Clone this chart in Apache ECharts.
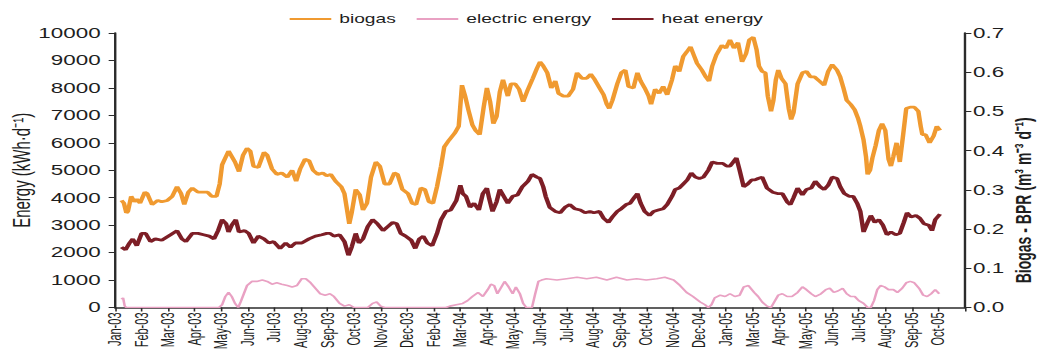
<!DOCTYPE html>
<html>
<head>
<meta charset="utf-8">
<script src="https://cdn.jsdelivr.net/npm/echarts@6/dist/echarts.min.js"></script>
<style>
  html, body { margin: 0; padding: 0; background: #fff; overflow: hidden; }
  #wrap { width: 1037px; height: 353px; overflow: hidden; }
  /* the figure is drawn narrow and widened horizontally */
  #chart { width: 648px; height: 353px; transform: scaleX(1.60031); transform-origin: 0 0; }
</style>
</head>
<body>
<div id="wrap"><div id="chart"></div></div>
<script>
// x values are days counted from 1 Jan 2003; ticks every 33 days
const tickStep = 33;
const tickLabels = ['Jan-03','Feb-03','Mar-03','Apr-03','May-03','Jun-03','Jul-03','Aug-03','Sep-03','Oct-03','Nov-03','Dec-03',
  'Feb-04','Mar-04','Apr-04','May-04','Jun-04','Jul-04','Aug-04','Sep-04','Oct-04','Nov-04','Dec-04',
  'Jan-05','Mar-05','Apr-05','May-05','Jun-05','Jul-05','Aug-05','Sep-05','Oct-05'];

const leftTicks = [0, 10000, 1000];   // min, max, step (kWh/d)
const rightTicks = [0, 0.7, 0.1];     // min, max, step (BPR)

// biogas (kWh/d)
const biogasDays = [8,11,14,16,20,24,27,31,37,40,46,53,58,65,71,77,82,86,91,96,103,109,115,120,126,130,133,137,141,145,149,154,159,164,168,172,178,185,189,195,201,207,214,220,225,230,236,241,246,252,258,
  263,268,274,281,285,288,291,294,299,304,308,313,318,324,329,335,341,347,351,357,364,369,374,380,385,390,395,400,405,409,415,422,427,431,435,439,444,448,453,458,462,466,470,474,478,482,488,492,497,502,507,513,519,524,
  528,532,537,542,547,551,557,563,569,574,580,586,591,596,602,607,611,614,618,624,629,634,638,644,649,653,658,663,666,671,676,681,686,692,696,701,706,710,715,719,723,729,734,738,742,747,754,759,764,769,774,779,784,788,793,
  797,800,804,808,811,815,818,821,824,828,833,837,840,843,848,854,859,864,869,875,881,886,891,897,901,905,909,914,919,923,926,930,933,935,938,941,945,949,953,957,961,964,967,971,975,979,983,988,993,998,1001,1003,1007,1012,1017,1021,1025];
const biogasValues = [3900,3800,3450,3500,4050,3850,3950,3800,4200,4150,3750,3900,3850,3900,4050,4400,4150,3750,4200,4350,4200,4200,4200,4050,4050,4500,5200,5450,5700,5500,5300,4950,5550,5800,5700,5150,5100,5650,5550,5050,4850,4900,4750,5000,4600,5050,5400,5350,5000,4850,4900,
  4800,4850,4600,4400,4150,3600,3050,3450,4300,4100,3550,3800,4750,5300,5150,4500,4500,4900,4850,4300,4150,3800,3750,4350,4300,3850,3800,4400,5150,5850,6100,6350,6600,8100,7700,7200,6650,6450,6300,7300,8000,7500,6700,6950,7850,8300,7700,8150,8150,7950,7500,7950,8350,8700,
  8950,8800,8550,8000,8250,7800,7700,7700,7950,8550,8350,8350,8500,8300,8000,7750,7400,7250,7550,8150,8550,8650,8050,8000,8550,8250,8000,7700,7400,7950,7800,8050,7750,8300,8800,8600,9150,9300,9500,9200,8900,8650,8400,8250,8800,9200,9550,9450,9750,9450,9650,8950,9250,9750,9850,
  9400,8800,8600,8550,7700,7150,7550,8300,8650,8350,8150,7250,6850,7100,8150,8550,8600,8400,8400,8250,8100,8600,8850,8650,8400,8000,7550,7400,7200,6900,6600,6100,5500,4850,5000,5450,5900,6450,6700,6450,5400,5150,5500,6000,5300,6250,7250,7300,7300,7150,6600,6300,6300,6000,6250,6600,6450];

// electric energy (kWh/d)
const electricDays = [8,10,12,14,129,133,137,141,145,149,153,156,160,164,170,176,183,189,195,201,207,214,220,226,232,237,243,249,255,261,267,272,279,285,291,297,314,320,325,330,335,
  411,416,424,432,438,444,451,457,463,467,471,475,480,484,489,494,498,503,507,511,518,522,526,530,536,549,561,574,586,598,611,623,636,648,660,673,683,694,702,710,718,727,733,737,741,745,752,758,764,770,776,781,787,
  794,799,804,810,815,819,824,829,835,841,848,854,859,865,870,877,883,888,893,898,904,909,914,919,924,930,935,939,943,947,951,956,961,967,972,978,983,988,993,999,1004,1009,1014,1019,1024];
const electricValues = [300,350,50,0,0,100,400,550,400,150,0,200,500,800,950,950,1000,950,850,900,850,800,750,800,1050,1050,900,700,500,450,500,400,150,50,100,0,0,150,200,50,0,
  0,50,100,150,250,400,550,400,650,850,800,500,750,950,750,500,750,500,150,0,0,500,950,1000,1050,1000,1050,1100,1050,1100,1000,1100,1000,1050,1000,1050,1100,1000,800,550,400,200,100,0,100,350,450,400,500,400,450,750,800,
  550,400,200,50,0,200,450,500,400,400,550,750,650,500,400,500,650,700,550,600,700,500,400,400,250,150,0,0,250,650,800,750,650,650,550,700,900,950,900,700,450,400,500,650,500];

// heat energy (kWh/d)
const heatDays = [8,13,18,22,27,33,38,44,50,58,69,77,83,88,96,103,110,117,123,128,133,138,141,145,150,154,161,166,172,178,185,191,197,205,212,218,224,232,241,249,257,
  263,267,272,279,285,290,294,299,303,308,314,320,326,333,339,345,350,355,361,368,373,378,383,388,394,400,405,411,417,424,429,432,436,441,446,452,457,462,465,469,474,478,482,488,494,500,506,513,518,524,
  528,532,535,540,547,553,559,565,571,578,584,590,595,602,607,613,618,624,629,635,640,645,649,653,658,664,669,675,681,686,692,696,701,706,711,716,721,726,731,737,742,748,755,760,764,768,772,776,781,786,791,
  795,799,804,810,817,823,829,835,839,843,848,854,859,865,870,876,881,886,891,897,901,906,912,917,922,926,930,935,939,944,949,954,959,964,970,975,980,984,989,995,1000,1005,1011,1015,1019,1025];
const heatValues = [2200,2100,2350,2500,2250,2700,2700,2400,2500,2450,2650,2800,2500,2400,2700,2700,2650,2600,2500,2800,3200,3050,2750,3000,3200,2750,2800,2700,2350,2600,2500,2350,2400,2150,2350,2200,2350,2350,2500,2600,2650,
  2700,2700,2600,2650,2400,1900,2200,2700,2350,2500,2950,3200,3050,2800,2950,3100,3050,2700,2600,2450,2150,2500,2600,2350,2250,2700,3200,3500,3550,3900,4450,4150,4050,3650,3800,3550,4150,4350,3950,3500,3850,4300,4100,3800,4050,4100,4400,4600,4850,4750,
  4700,4400,4050,3650,3500,3450,3650,3750,3600,3550,3450,3500,3450,3500,3250,3100,3300,3500,3600,3750,3800,4000,4150,3800,3500,3350,3500,3550,3600,3750,4050,4300,4350,4500,4650,4900,4750,4700,4750,5000,5300,5250,5250,5150,5150,5300,5450,5000,4400,4500,4650,
  4650,4700,4750,4350,4200,4150,4150,3850,3750,4000,4350,4100,4300,4350,4600,4400,4300,4450,4750,4700,4400,4150,4050,4050,3800,3500,2750,3100,3350,3100,3200,3000,2650,2750,2650,2700,3100,3450,3300,3350,3250,3050,3000,2800,3200,3400];

const zip = (xs, ys) => xs.map((x, i) => [x, ys[i]]);

const font = "'Liberation Sans', Arial, sans-serif";
const ink = '#1e1e1e';
const axisColor = '#2b2b2b';
const colors = { biogas: '#F09A30', electric: '#E9A1C3', heat: '#7D1E26' };

const chart = echarts.init(document.getElementById('chart'), null, { renderer: 'svg' });
chart.setOption({
  animation: false,
  backgroundColor: '#fff',
  textStyle: { fontFamily: font },
  legend: {
    left: 181, top: 13, padding: 0,
    icon: 'rect', itemWidth: 26, itemHeight: 2, itemGap: 13,
    textStyle: { fontSize: 12, color: ink, fontFamily: font },
    data: ['biogas', 'electric energy', 'heat energy']
  },
  grid: { left: 71.9, right: 45, top: 33, bottom: 45.5, containLabel: false, outerBoundsMode: 'none' },
  xAxis: {
    type: 'value',
    min: 0,
    max: tickStep * tickLabels.length,
    interval: tickStep,
    splitLine: { show: false },
    axisLine: { onZero: false, lineStyle: { color: axisColor, width: 1.5 } },
    axisTick: { show: true, length: 4, lineStyle: { color: axisColor, width: 1 } },
    axisLabel: {
      rotate: 90, margin: 5, fontSize: 11, color: ink, fontFamily: font,
      showMinLabel: true, showMaxLabel: true,
      formatter: v => tickLabels[Math.round(v / tickStep)] || ''
    }
  },
  yAxis: [
    {
      type: 'value',
      min: leftTicks[0], max: leftTicks[1], interval: leftTicks[2],
      splitLine: { show: false },
      axisLine: { show: true, lineStyle: { color: axisColor, width: 1.5 } },
      axisTick: { show: true, length: 4, lineStyle: { color: axisColor, width: 1 } },
      axisLabel: { margin: 9, fontSize: 14, color: ink, fontFamily: font, formatter: v => String(v) },
      name: 'Energy (kWh·d⁻¹)',
      nameLocation: 'middle', nameRotate: 90, nameGap: 51, nameMoveOverlap: false,
      nameTextStyle: { fontSize: 15, color: ink, fontFamily: font }
    },
    {
      type: 'value', position: 'right',
      min: rightTicks[0], max: rightTicks[1], interval: rightTicks[2],
      splitLine: { show: false },
      axisLine: { show: true, lineStyle: { color: axisColor, width: 1.5 } },
      axisTick: { show: true, length: 4, lineStyle: { color: axisColor, width: 1 } },
      axisLabel: { margin: 5, fontSize: 14, color: ink, fontFamily: font, formatter: v => v.toFixed(1) },
      name: 'Biogas - BPR (m³ m⁻³ d⁻¹)',
      nameLocation: 'middle', nameRotate: 90, nameGap: 29.5, nameMoveOverlap: false,
      nameTextStyle: { fontSize: 14, fontWeight: 'bold', color: ink, fontFamily: font, padding: [0, 60, 0, 0] }
    }
  ],
  series: [
    {
      name: 'biogas', type: 'line', symbol: 'none', yAxisIndex: 0,
      data: zip(biogasDays, biogasValues),
      lineStyle: { color: colors.biogas, width: 2.8 }, itemStyle: { color: colors.biogas }
    },
    {
      name: 'electric energy', type: 'line', symbol: 'none', yAxisIndex: 0,
      data: zip(electricDays, electricValues),
      lineStyle: { color: colors.electric, width: 1.6 }, itemStyle: { color: colors.electric }
    },
    {
      name: 'heat energy', type: 'line', symbol: 'none', yAxisIndex: 0,
      data: zip(heatDays, heatValues),
      lineStyle: { color: colors.heat, width: 2.8 }, itemStyle: { color: colors.heat }
    }
  ]
});
</script>
</body>
</html>
